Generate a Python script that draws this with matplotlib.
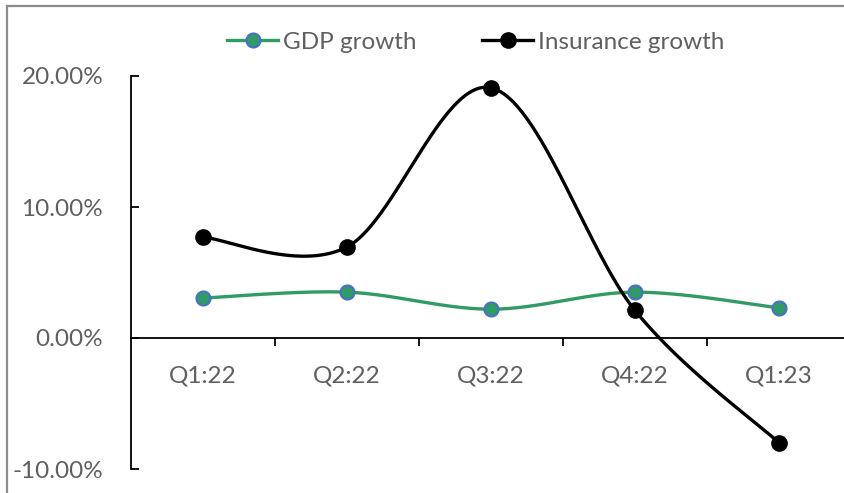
import numpy as np
import matplotlib
matplotlib.use("Agg")
import matplotlib.pyplot as plt
from matplotlib.patches import Rectangle
from matplotlib.ticker import FixedLocator, FuncFormatter

quarters = ["Q1:22", "Q2:22", "Q3:22", "Q4:22", "Q1:23"]
gdp_growth = [3.05, 3.5, 2.2, 3.5, 2.3]
insurance_growth = [7.7, 6.95, 19.1, 2.1, -8.0]

TEXT = "#5F5F5F"
GREEN = "#319B66"
BLUE_EDGE = "#4472C4"

plt.rcParams["font.family"] = ["Lato", "DejaVu Sans"]
FS = 17.5


def smooth(xs, ys, n=60):
    """Cubic Bezier smoothing through every point (Catmull-Rom style)."""
    p = np.column_stack([xs, ys]).astype(float)
    ext = np.vstack([p[0], p, p[-1]])
    out = []
    t = np.linspace(0, 1, n)[:, None]
    for i in range(len(p) - 1):
        p0, p1, p2, p3 = ext[i], ext[i + 1], ext[i + 2], ext[i + 3]
        c1 = p1 + (p2 - p0) / 6.0
        c2 = p2 - (p3 - p1) / 6.0
        seg = ((1 - t) ** 3) * p1 + 3 * ((1 - t) ** 2) * t * c1 \
            + 3 * (1 - t) * t ** 2 * c2 + t ** 3 * p2
        out.append(seg if i == 0 else seg[1:])
    s = np.vstack(out)
    return s[:, 0], s[:, 1]


W, H = 845, 493
fig = plt.figure(figsize=(W / 100, H / 100), dpi=100)

# chart frame (gray border)
fig.patches.append(Rectangle((7 / W, -0.1), 1.2, 1 - 6 / H + 0.1,
                             transform=fig.transFigure, fill=False,
                             edgecolor="#8C8C8C", linewidth=1.6, zorder=0))

x0_px, x1_px = 131, 845
y_top, y_bot = 76, 469
ax = fig.add_axes([x0_px / W, 1 - y_bot / H, (x1_px - x0_px) / W,
                   (y_bot - y_top) / H])
ax.patch.set_visible(False)

x = np.arange(len(quarters))
step = 144.0
ax.set_xlim(-0.5, -0.5 + (x1_px - x0_px) / step)
ax.set_ylim(-10, 20)

sx, sy = smooth(x, gdp_growth)
ax.plot(sx, sy, color=GREEN, lw=2.4, solid_capstyle="round", zorder=3)
ax.plot(x, gdp_growth, ls="none", marker="o", ms=10, mfc=GREEN,
        mec=BLUE_EDGE, mew=1.6, zorder=4)

sx, sy = smooth(x, insurance_growth)
ax.plot(sx, sy, color="black", lw=2.4, solid_capstyle="round", zorder=5)
ax.plot(x, insurance_growth, ls="none", marker="o", ms=11, mfc="black",
        mec="black", zorder=6)

# legend proxies
h1, = ax.plot([], [], color=GREEN, lw=2.4, marker="o", ms=10, mfc=GREEN,
              mec=BLUE_EDGE, mew=1.6)
h2, = ax.plot([], [], color="black", lw=2.4, marker="o", ms=11,
              mfc="black", mec="black")
fig.legend([h1, h2], ["GDP growth", "Insurance growth"], ncol=2,
           loc="center", bbox_to_anchor=(476 / W, 1 - 42 / H),
           frameon=False, fontsize=FS, labelcolor=TEXT, handlelength=2.1,
           handletextpad=0.2, columnspacing=2.7)

for s in ("top", "right"):
    ax.spines[s].set_visible(False)
ax.spines["bottom"].set_position(("data", 0))
ax.spines["bottom"].set_color("black")
ax.spines["left"].set_color("black")
ax.spines["bottom"].set_linewidth(1.3)
ax.spines["left"].set_linewidth(1.3)

ax.yaxis.set_major_locator(FixedLocator([-10, 0, 10, 20]))
ax.yaxis.set_major_formatter(FuncFormatter(lambda v, _: f"{v:.2f}%"))
ax.tick_params(axis="y", direction="in", length=6, width=1.3, pad=20,
               labelsize=FS, labelcolor=TEXT)

ax.xaxis.set_major_locator(FixedLocator(x[:-1] + 0.5))
ax.xaxis.set_minor_locator(FixedLocator(x))
ax.set_xticklabels([], minor=False)
ax.set_xticklabels(quarters, minor=True)
ax.tick_params(axis="x", which="major", direction="out", length=6,
               width=1.3, labelbottom=False)
ax.tick_params(axis="x", which="minor", length=0, pad=20, labelsize=FS,
               labelcolor=TEXT)

fig.savefig("out.png", dpi=100)
